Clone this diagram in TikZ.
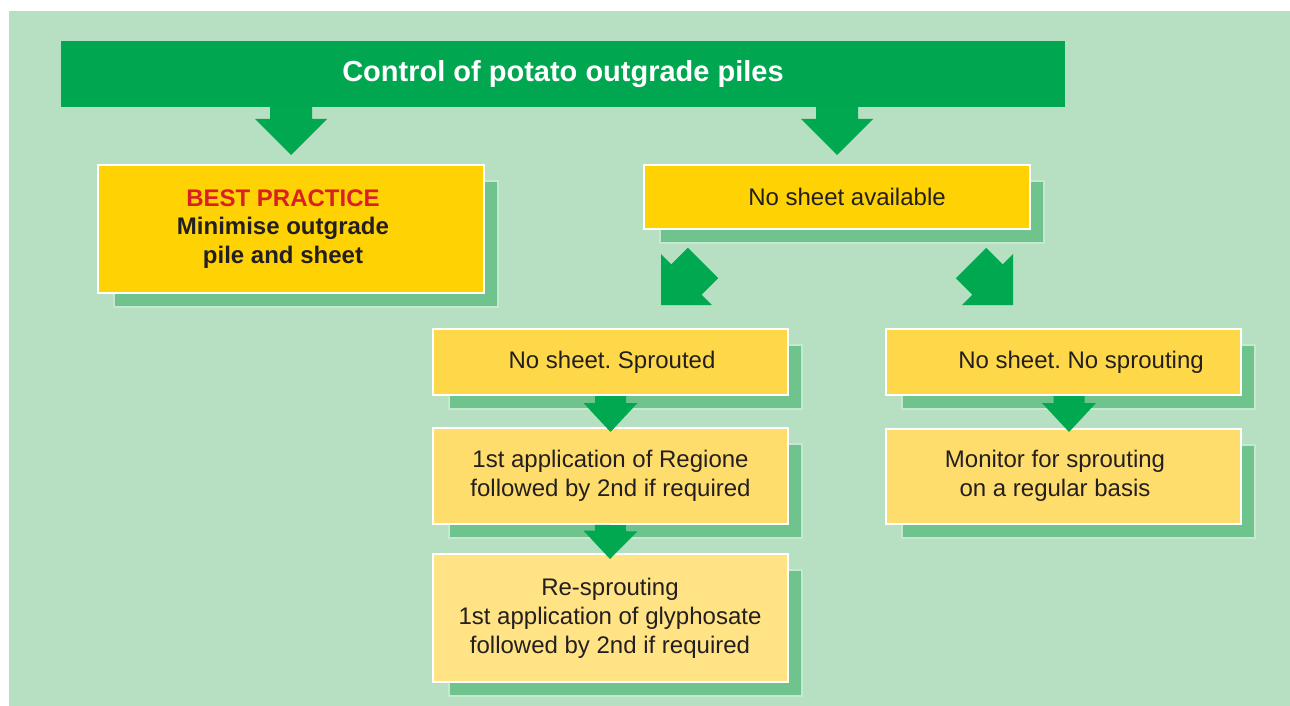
\documentclass[tikz,border=0pt]{standalone}
\usepackage{fontspec}
\setmainfont{Liberation Sans}
\usetikzlibrary{calc,backgrounds}
\frenchspacing

\definecolor{bggreen}{HTML}{B7DFC1}
\definecolor{titlegreen}{HTML}{00A650}
\definecolor{arrowgreen}{HTML}{00A84F}
\definecolor{shadowgreen}{HTML}{6FC38D}
\definecolor{shadowedge}{HTML}{C6E7D0}
\definecolor{topyellow}{HTML}{FFD204}
\definecolor{rowyellow}{HTML}{FFD84A}
\definecolor{midyellow}{HTML}{FFDD6C}
\definecolor{lowyellow}{HTML}{FFE385}
\definecolor{bestred}{HTML}{DA1F26}
\definecolor{textdark}{HTML}{231F20}

\tikzset{
  box/.style={draw=white,line width=2pt,minimum width=355pt,inner sep=0pt,
    align=center,text=textdark,font=\fontsize{24}{29}\selectfont},
}

% fat arrow: start, tip, half shaft, half head, head length
\newcommand\blockarrow[5]{%
  \coordinate (hb) at ($(#2)!#5!(#1)$);
  \fill[arrowgreen] ($(#1)!#3!90:(#2)$) -- ($(hb)!#3!90:(#2)$) -- ($(hb)!#4!90:(#2)$) -- (#2)
    -- ($(hb)!#4!-90:(#2)$) -- ($(hb)!#3!-90:(#2)$) -- ($(#1)!#3!-90:(#2)$) -- cycle;
}

\begin{document}
\begin{tikzpicture}[x=1pt,y=-1pt]
  \useasboundingbox (0,0) rectangle (1290,706);
  \begin{scope}[on background layer]
    \fill[white] (0,0) rectangle (1290,706);
    \fill[bggreen] (9,11) rectangle (1290,706);
  \end{scope}

  \node[fill=titlegreen,minimum width=1004pt,minimum height=66pt,inner sep=0pt,
    text=white,font=\bfseries\fontsize{29}{34}\selectfont](title) at (563,74) {Control of potato outgrade piles};

  \node[box,fill=topyellow,minimum width=386pt,minimum height=128pt,
    font=\bfseries\fontsize{24}{28.5}\selectfont](best) at (291,229)
    {\textcolor{bestred}{BEST PRACTICE}\kern16pt\\Minimise outgrade\kern16pt\\pile and sheet\kern16pt};
  \node[box,fill=topyellow,minimum width=386pt,minimum height=64pt](nosheet) at (837,197) {\kern20pt No sheet available};

  \node[box,fill=rowyellow,minimum height=66pt](sprout) at (610.5,362) {\kern3pt No sheet. Sprouted};
  \node[box,fill=midyellow,minimum height=96pt](regione) at (610.5,476)
    {1st application of Regione\\followed by 2nd if required};
  \node[box,fill=lowyellow,minimum height=128pt](resprout) at (610,618)
    {Re-sprouting\\1st application of glyphosate\\followed by 2nd if required};

  \node[box,fill=rowyellow,minimum height=66pt](nosprout) at (1063.5,362) {\kern35pt No sheet. No sprouting};
  \node[box,fill=midyellow,minimum height=95pt](monitor) at (1063.5,476)
    {Monitor for sprouting\kern17pt\\on a regular basis\kern17pt};

  \begin{scope}[on background layer]
    \foreach \n in {best,nosheet,sprout,regione,resprout,nosprout,monitor}
      \draw[shadowedge,line width=2pt,fill=shadowgreen]
        ([shift={(17,17)}]\n.north west) rectangle ([shift={(13,13)}]\n.south east);
  \end{scope}

  \coordinate (s1) at (title.south -| best.north);
  \coordinate (t1) at ([yshift=9pt]best.north);
  \coordinate (s2) at (title.south -| nosheet.north);
  \coordinate (t2) at ([yshift=9pt]nosheet.north);
  \coordinate (dl0) at (703,263);
  \coordinate (dl1) at (661,305);
  \coordinate (dr0) at (971,263);
  \coordinate (dr1) at (1013,305);
  \coordinate (s3) at (sprout.south);
  \coordinate (t3) at (610.5,432);
  \coordinate (s4) at (regione.south);
  \coordinate (t4) at ([yshift=-6pt]resprout.north);
  \coordinate (s5) at ([xshift=5.5pt]nosprout.south);
  \coordinate (t5) at (1069,432);

  \foreach \a/\b/\w/\h/\l in {s1/t1/21pt/36pt/36pt, s2/t2/21pt/36pt/36pt,
      dl0/dl1/21.5pt/36pt/36pt, dr0/dr1/21.5pt/36pt/36pt,
      s3/t3/15.5pt/27pt/29pt, s4/t4/15.5pt/27pt/28pt, s5/t5/15.5pt/27pt/29pt} {
    \blockarrow{\a}{\b}{\w}{\h}{\l}
  }
\end{tikzpicture}
\end{document}
